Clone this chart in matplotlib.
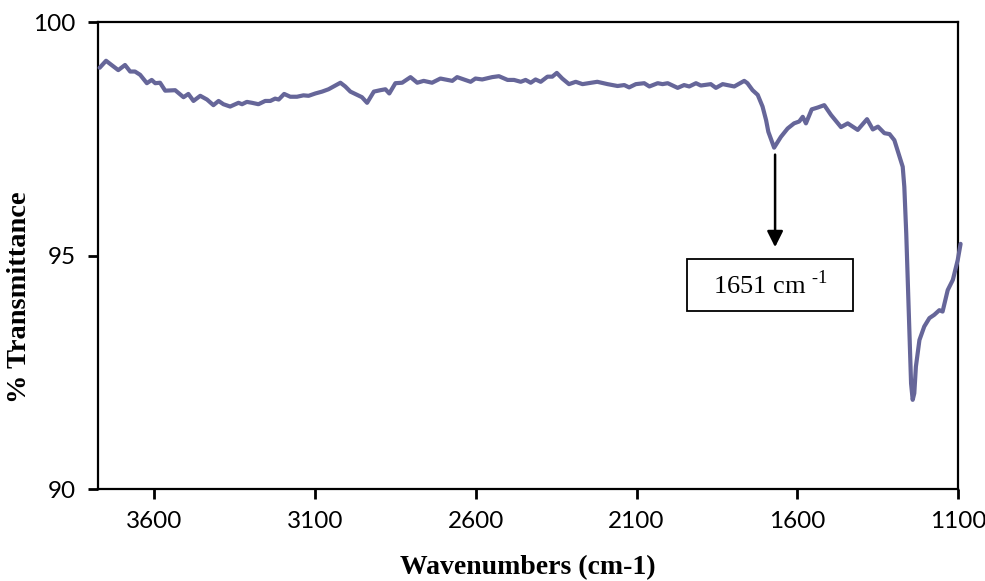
import matplotlib
matplotlib.use("Agg")
import matplotlib.pyplot as plt
from matplotlib.patches import Rectangle

plt.rcParams['mathtext.fontset'] = 'custom'
plt.rcParams['mathtext.rm'] = 'Liberation Serif'

wavenumber = [3770, 3750, 3712, 3691, 3675, 3660, 3644, 3623, 3608, 3597, 3582, 3566, 3535,
              3509, 3494, 3478, 3457, 3436, 3416, 3400, 3385, 3364, 3338, 3327, 3312, 3296,
              3276, 3255, 3239, 3224, 3213, 3196, 3177, 3156, 3136, 3120, 3099, 3078, 3058,
              3042, 3021, 3006, 2990, 2969, 2954, 2938, 2917, 2897, 2881, 2869, 2850, 2829,
              2803, 2782, 2762, 2736, 2710, 2673, 2658, 2616, 2601, 2580, 2549, 2528, 2501,
              2481, 2460, 2445, 2429, 2414, 2398, 2377, 2362, 2348, 2331, 2310, 2289, 2268,
              2222, 2190, 2159, 2138, 2123, 2102, 2076, 2060, 2034, 2019, 2003, 1972, 1952,
              1936, 1915, 1900, 1869, 1853, 1832, 1796, 1765, 1755, 1739, 1723, 1708, 1697,
              1690, 1672, 1651, 1630, 1610, 1594, 1583, 1573, 1555, 1536, 1516, 1495, 1464,
              1443, 1412, 1383, 1365, 1349, 1329, 1313, 1298, 1282, 1272, 1267, 1261, 1256,
              1251, 1246, 1241, 1236, 1231, 1220, 1205, 1189, 1174, 1158, 1148, 1132, 1116,
              1101, 1092]
transmittance = [99.02, 99.17, 98.97, 99.08, 98.94, 98.94, 98.87, 98.69, 98.76, 98.69, 98.70,
                 98.53, 98.54, 98.39, 98.46, 98.31, 98.42, 98.34, 98.22, 98.31, 98.24, 98.19,
                 98.27, 98.24, 98.29, 98.27, 98.24, 98.31, 98.31, 98.36, 98.34, 98.46, 98.40,
                 98.40, 98.43, 98.42, 98.47, 98.51, 98.56, 98.62, 98.70, 98.62, 98.51, 98.44,
                 98.39, 98.27, 98.51, 98.54, 98.56, 98.47, 98.69, 98.70, 98.82, 98.70, 98.74,
                 98.70, 98.79, 98.74, 98.82, 98.72, 98.79, 98.77, 98.82, 98.84, 98.76, 98.76,
                 98.72, 98.76, 98.70, 98.77, 98.72, 98.83, 98.83, 98.91, 98.79, 98.67, 98.72,
                 98.67, 98.72, 98.67, 98.63, 98.65, 98.60, 98.67, 98.69, 98.62, 98.69, 98.67,
                 98.69, 98.59, 98.65, 98.62, 98.69, 98.64, 98.67, 98.59, 98.67, 98.62, 98.74,
                 98.69, 98.54, 98.44, 98.19, 97.90, 97.65, 97.31, 97.54, 97.72, 97.83, 97.87,
                 97.97, 97.83, 98.13, 98.17, 98.22, 98.01, 97.75, 97.83, 97.69, 97.92, 97.70,
                 97.76, 97.62, 97.60, 97.47, 97.12, 96.90, 96.47, 95.47, 94.40, 93.33, 92.26,
                 91.91, 92.05, 92.62, 93.19, 93.48, 93.66, 93.73, 93.83, 93.80, 94.26, 94.48,
                 94.90, 95.25]

x_ticks = [3600, 3100, 2600, 2100, 1600, 1100]
y_ticks = [90, 95, 100]
peak_label = "1651 cm $^{\\text{-1}}$"

fig = plt.figure(figsize=(9.85, 5.81), dpi=100)
ax = fig.add_axes([0.0995, 0.1583, 0.8731, 0.8038])
ax.plot(wavenumber, transmittance, color='#666699', lw=3.0, solid_joinstyle='round',
        solid_capstyle='round', clip_on=False, zorder=3)
ax.set_xlim(3775, 1100)
ax.set_ylim(90, 100)
ax.set_xticks(x_ticks)
ax.set_yticks(y_ticks)
for s in ax.spines.values():
    s.set_linewidth(1.6)
    s.set_color('black')
ax.tick_params(direction='out', length=7, width=2, labelsize=17.5, pad=9)
for lab in ax.get_xticklabels() + ax.get_yticklabels():
    lab.set_fontfamily('Lato')
fig.text(528 / 985, 1 - 568 / 581, 'Wavenumbers (cm-1)', fontfamily='Liberation Serif',
         fontweight='bold', fontsize=20, ha='center', va='center')
fig.text(20 / 985, 1 - 297 / 581, '% Transmittance', fontfamily='Liberation Serif',
         fontweight='bold', fontsize=20.5, ha='center', va='center', rotation=90)

ax.annotate('', xy=(1669, 95.12), xytext=(1669, 97.22),
            arrowprops=dict(arrowstyle='-|>', color='black', lw=1.8, mutation_scale=24))
ax.add_patch(Rectangle((0.6849, 0.3812), 0.193, 0.1113, transform=ax.transAxes,
                       fc='white', ec='black', lw=1.3, zorder=4))
ax.text(0.6849 + 0.193 / 2, 0.3812 + 0.1113 / 2, peak_label, transform=ax.transAxes,
        ha='center', va='center', fontsize=19, fontfamily='Liberation Serif', zorder=5)

fig.savefig('out.png', dpi=100)
